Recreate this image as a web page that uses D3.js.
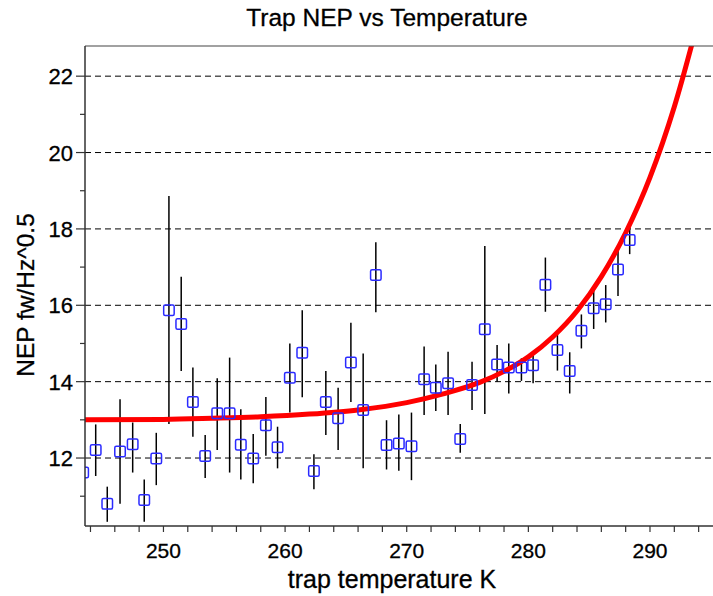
<!DOCTYPE html>
<html>
<head>
<meta charset="utf-8">
<script src="https://cdn.jsdelivr.net/npm/d3@7"></script>
<style>
  body { margin: 0; background: #fff; }
  text { font-family: "Liberation Sans", Arial, sans-serif; fill: #000; stroke: #000; stroke-width: 0.3; }
  .grid line { stroke: #000; stroke-dasharray: 6,4; stroke-width: 1; }
</style>
</head>
<body>
<svg id="chart" width="713" height="596"></svg>
<script>
// measured trap temperature (K) and NEP with error bar ends
const temps = [243.4, 244.43, 245.38, 246.43, 247.47, 248.42, 249.41, 250.45, 251.46, 252.42,
  253.43, 254.42, 255.44, 256.36, 257.38, 258.42, 259.38, 260.39, 261.41, 262.37,
  263.35, 264.36, 265.41, 266.42, 267.46, 268.34, 269.35, 270.39, 271.43, 272.39,
  273.40, 274.40, 275.37, 276.42, 277.43, 278.39, 279.43, 280.39, 281.40, 282.39,
  283.40, 284.36, 285.37, 286.36, 287.37, 288.33];
const nep = [11.62, 12.21, 10.80, 12.17, 12.36, 10.90, 11.99, 15.87, 15.51, 13.47,
  12.05, 13.17, 13.17, 12.35, 11.99, 12.86, 12.28, 14.10, 14.76, 11.66,
  13.47, 13.04, 14.50, 13.26, 16.79, 12.34, 12.38, 12.31, 14.06, 13.84,
  13.96, 12.50, 13.91, 15.37, 14.45, 14.37, 14.37, 14.43, 16.54, 14.83,
  14.28, 15.33, 15.92, 16.03, 16.94, 17.71];
const nepHigh = [12.10, 12.88, 11.25, 13.54, 12.93, 11.44, 12.66, 18.86, 16.75, 14.37,
  12.60, 14.09, 14.63, 13.28, 12.63, 13.60, 12.82, 15.00, 15.87, 12.10,
  14.28, 13.84, 15.54, 14.74, 17.65, 12.99, 13.14, 13.19, 14.92, 14.45,
  14.78, 12.89, 14.52, 17.55, 14.96, 15.00, 14.61, 14.74, 17.25, 15.26,
  14.77, 15.76, 16.47, 16.53, 17.46, 18.10];
const nepLow = [11.10, 11.53, 10.33, 10.80, 11.62, 10.33, 11.29, 12.89, 14.28, 12.56,
  11.48, 12.21, 11.62, 11.44, 11.34, 12.06, 11.73, 13.19, 13.59, 11.18,
  12.60, 12.21, 13.47, 11.73, 15.82, 11.70, 11.67, 11.42, 13.13, 13.23,
  13.13, 12.14, 13.26, 13.15, 14.00, 13.69, 14.02, 13.96, 15.83, 14.29,
  13.69, 14.87, 15.38, 15.55, 16.24, 17.34];

// fit curve
const fitT = [243.5, 250, 254, 258, 262, 266, 270, 273, 276, 278, 280, 282, 284, 286, 288, 290, 292, 294];
const fitNep = [13.00, 13.01, 13.04, 13.08, 13.15, 13.26, 13.45, 13.68, 13.98, 14.27, 14.65, 15.17, 15.85, 16.75, 17.90, 19.35, 21.20, 23.50];

const xTicks = d3.range(244, 296, 2);
const xLabels = [250, 260, 270, 280, 290];
const yTicks = d3.range(11, 23, 1);
const yLabels = [12, 14, 16, 18, 20, 22];

const W = 713, H = 596;
const margin = { top: 46, right: 0, bottom: 70, left: 85 };
const plotL = margin.left, plotR = W - margin.right;
const plotT = margin.top, plotB = H - margin.bottom;

const x = d3.scaleLinear().domain([243.55, 295.18]).range([plotL, plotR]);
const y = d3.scaleLinear().domain([10.22, 22.79]).range([plotB, plotT]);

const svg = d3.select('#chart');

svg.append('defs').append('clipPath').attr('id', 'plot')
  .append('rect').attr('x', plotL).attr('y', plotT)
  .attr('width', plotR - plotL).attr('height', plotB - plotT);

// dashed grid
svg.append('g').attr('class', 'grid')
  .selectAll('line').data(yLabels).enter().append('line')
  .attr('x1', plotL).attr('x2', plotR)
  .attr('y1', d => y(d)).attr('y2', d => y(d));

const plot = svg.append('g').attr('clip-path', 'url(#plot)');

// error bars
plot.selectAll('.err').data(temps).enter().append('line')
  .attr('x1', d => x(d)).attr('x2', d => x(d))
  .attr('y1', (d, i) => y(nepHigh[i])).attr('y2', (d, i) => y(nepLow[i]))
  .attr('stroke', '#000').attr('stroke-width', 1.5);

// fit curve
plot.append('path')
  .datum(fitT)
  .attr('fill', 'none')
  .attr('stroke', '#ff0000')
  .attr('stroke-width', 5)
  .attr('d', d3.line().x(d => x(d)).y((d, i) => y(fitNep[i])).curve(d3.curveMonotoneX));

// markers
const s = 10.5;
plot.selectAll('.pt').data(temps).enter().append('rect')
  .attr('x', d => x(d) - s / 2)
  .attr('y', (d, i) => y(nep[i]) - s / 2)
  .attr('width', s).attr('height', s)
  .attr('rx', 1.5)
  .attr('fill', 'none').attr('stroke', '#2a2aff').attr('stroke-width', 1.5);

// frame
svg.append('line').attr('x1', plotL).attr('x2', plotR).attr('y1', plotT).attr('y2', plotT)
  .attr('stroke', '#444').attr('stroke-width', 1.2);
svg.append('line').attr('x1', plotL).attr('x2', plotL).attr('y1', plotT).attr('y2', plotB)
  .attr('stroke', '#333').attr('stroke-width', 1.5);
svg.append('line').attr('x1', plotL).attr('x2', plotR).attr('y1', plotB).attr('y2', plotB)
  .attr('stroke', '#333').attr('stroke-width', 1.5);

// x ticks
svg.append('g').selectAll('line').data(xTicks).enter().append('line')
  .attr('x1', d => x(d)).attr('x2', d => x(d))
  .attr('y1', plotB).attr('y2', plotB + 6)
  .attr('stroke', '#333').attr('stroke-width', 1.2);
svg.append('g').selectAll('text').data(xLabels).enter().append('text')
  .attr('x', d => x(d)).attr('y', 558)
  .attr('text-anchor', 'middle').attr('font-size', 21)
  .text(d => d);

// y ticks
svg.append('g').selectAll('line').data(yTicks).enter().append('line')
  .attr('x1', d => plotL - (d % 2 === 0 ? 9 : 5)).attr('x2', plotL)
  .attr('y1', d => y(d)).attr('y2', d => y(d))
  .attr('stroke', '#333').attr('stroke-width', 1.2);
svg.append('g').selectAll('text').data(yLabels).enter().append('text')
  .attr('x', 73).attr('y', d => y(d) + 8)
  .attr('text-anchor', 'end').attr('font-size', 22)
  .text(d => d);

// titles
svg.append('text').attr('x', 387).attr('y', 26)
  .attr('text-anchor', 'middle').attr('font-size', 24.5)
  .text('Trap NEP vs Temperature');
svg.append('text').attr('x', 392).attr('y', 588)
  .attr('text-anchor', 'middle').attr('font-size', 25)
  .text('trap temperature K');
svg.append('text')
  .attr('transform', 'translate(34,295) rotate(-90)')
  .attr('text-anchor', 'middle').attr('font-size', 24.5)
  .text('NEP fw/Hz^0.5');
</script>
</body>
</html>
